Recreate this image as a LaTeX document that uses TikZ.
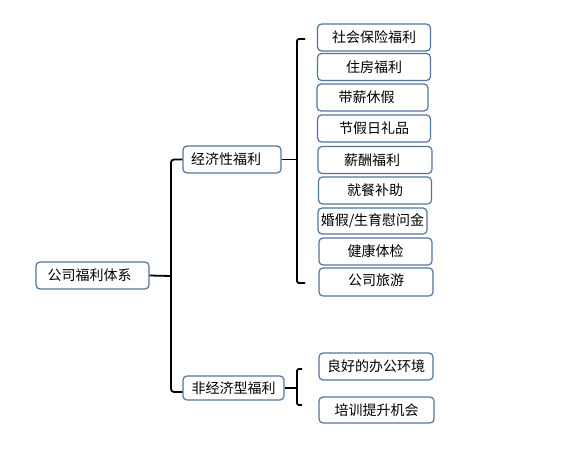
\documentclass[tikz,border=0pt]{standalone}
\usepackage{fontspec}
\newfontfamily\cjk{Noto Sans CJK SC}
\definecolor{boxblue}{RGB}{84,117,158}
\begin{document}
\begin{tikzpicture}[x=1pt,y=-1pt,
  box/.style={draw=boxblue, line width=1.2pt, rounded corners=4pt, fill=white,
    inner sep=0pt, font=\cjk\fontsize{14pt}{16pt}\selectfont, text=black},
  conn/.style={draw=black, line width=1.8pt}]
\useasboundingbox (0,0) rectangle (578,452);
% root
\node[box, minimum width=113pt, minimum height=27pt] (root) at (92.5,275.5) {\hspace*{-6pt}公司福利体系};
% level 1
\node[box, minimum width=98pt, minimum height=27pt] (econ) at (232,159.5) {\hspace*{-12pt}经济性福利};
\node[box, minimum width=101pt, minimum height=24pt] (nonecon) at (233.5,388) {非经济型福利};
% econ children
\node[box, minimum width=113pt, minimum height=27pt] (c1) at (374,37.5) {社会保险福利};
\node[box, minimum width=113pt, minimum height=27pt] (c2) at (374,67) {住房福利};
\node[box, minimum width=111pt, minimum height=27pt] (c3) at (372.5,97.5) {\hspace*{-12pt}带薪休假};
\node[box, minimum width=113pt, minimum height=27pt] (c4) at (374,128.5) {节假日礼品};
\node[box, minimum width=114pt, minimum height=27pt] (c5) at (375,160) {\hspace*{-6pt}薪酬福利};
\node[box, minimum width=113pt, minimum height=27pt] (c6) at (375,190.5) {就餐补助};
\node[box, minimum width=109pt, minimum height=26pt] (c7) at (372.5,221) {婚假/生育慰问金};
\node[box, minimum width=113pt, minimum height=27pt] (c8) at (375.5,251.5) {健康体检};
\node[box, minimum width=114pt, minimum height=28pt] (c9) at (376,282) {\raisebox{5pt}{公司旅游}};
% nonecon children
\node[box, minimum width=114pt, minimum height=27pt] (d1) at (376,366.5) {良好的办公环境};
\node[box, minimum width=115pt, minimum height=26pt] (d2) at (376.5,410) {培训提升机会};
% connectors
\coordinate (j1) at (171,276);
\draw[conn] (root.east) -- (j1);
\draw[conn, rounded corners=3pt] (econ.west) -| (j1) |- ([yshift=-4pt]nonecon.west);
% econ bracket
\coordinate (e1) at (297,159.5);
\coordinate (et) at (305,39);
\coordinate (eb) at (305,283);
\draw[conn] (econ.east) -- (e1);
\draw[conn, rounded corners=2pt] (et) -| (e1) |- (eb);
% nonecon bracket
\coordinate (n1) at (297,388);
\coordinate (nt) at (302,369);
\coordinate (nb) at (302,405);
\draw[conn] (nonecon.east) -- (n1);
\draw[conn, rounded corners=2pt] (nt) -| (n1) |- (nb);
\end{tikzpicture}
\end{document}
